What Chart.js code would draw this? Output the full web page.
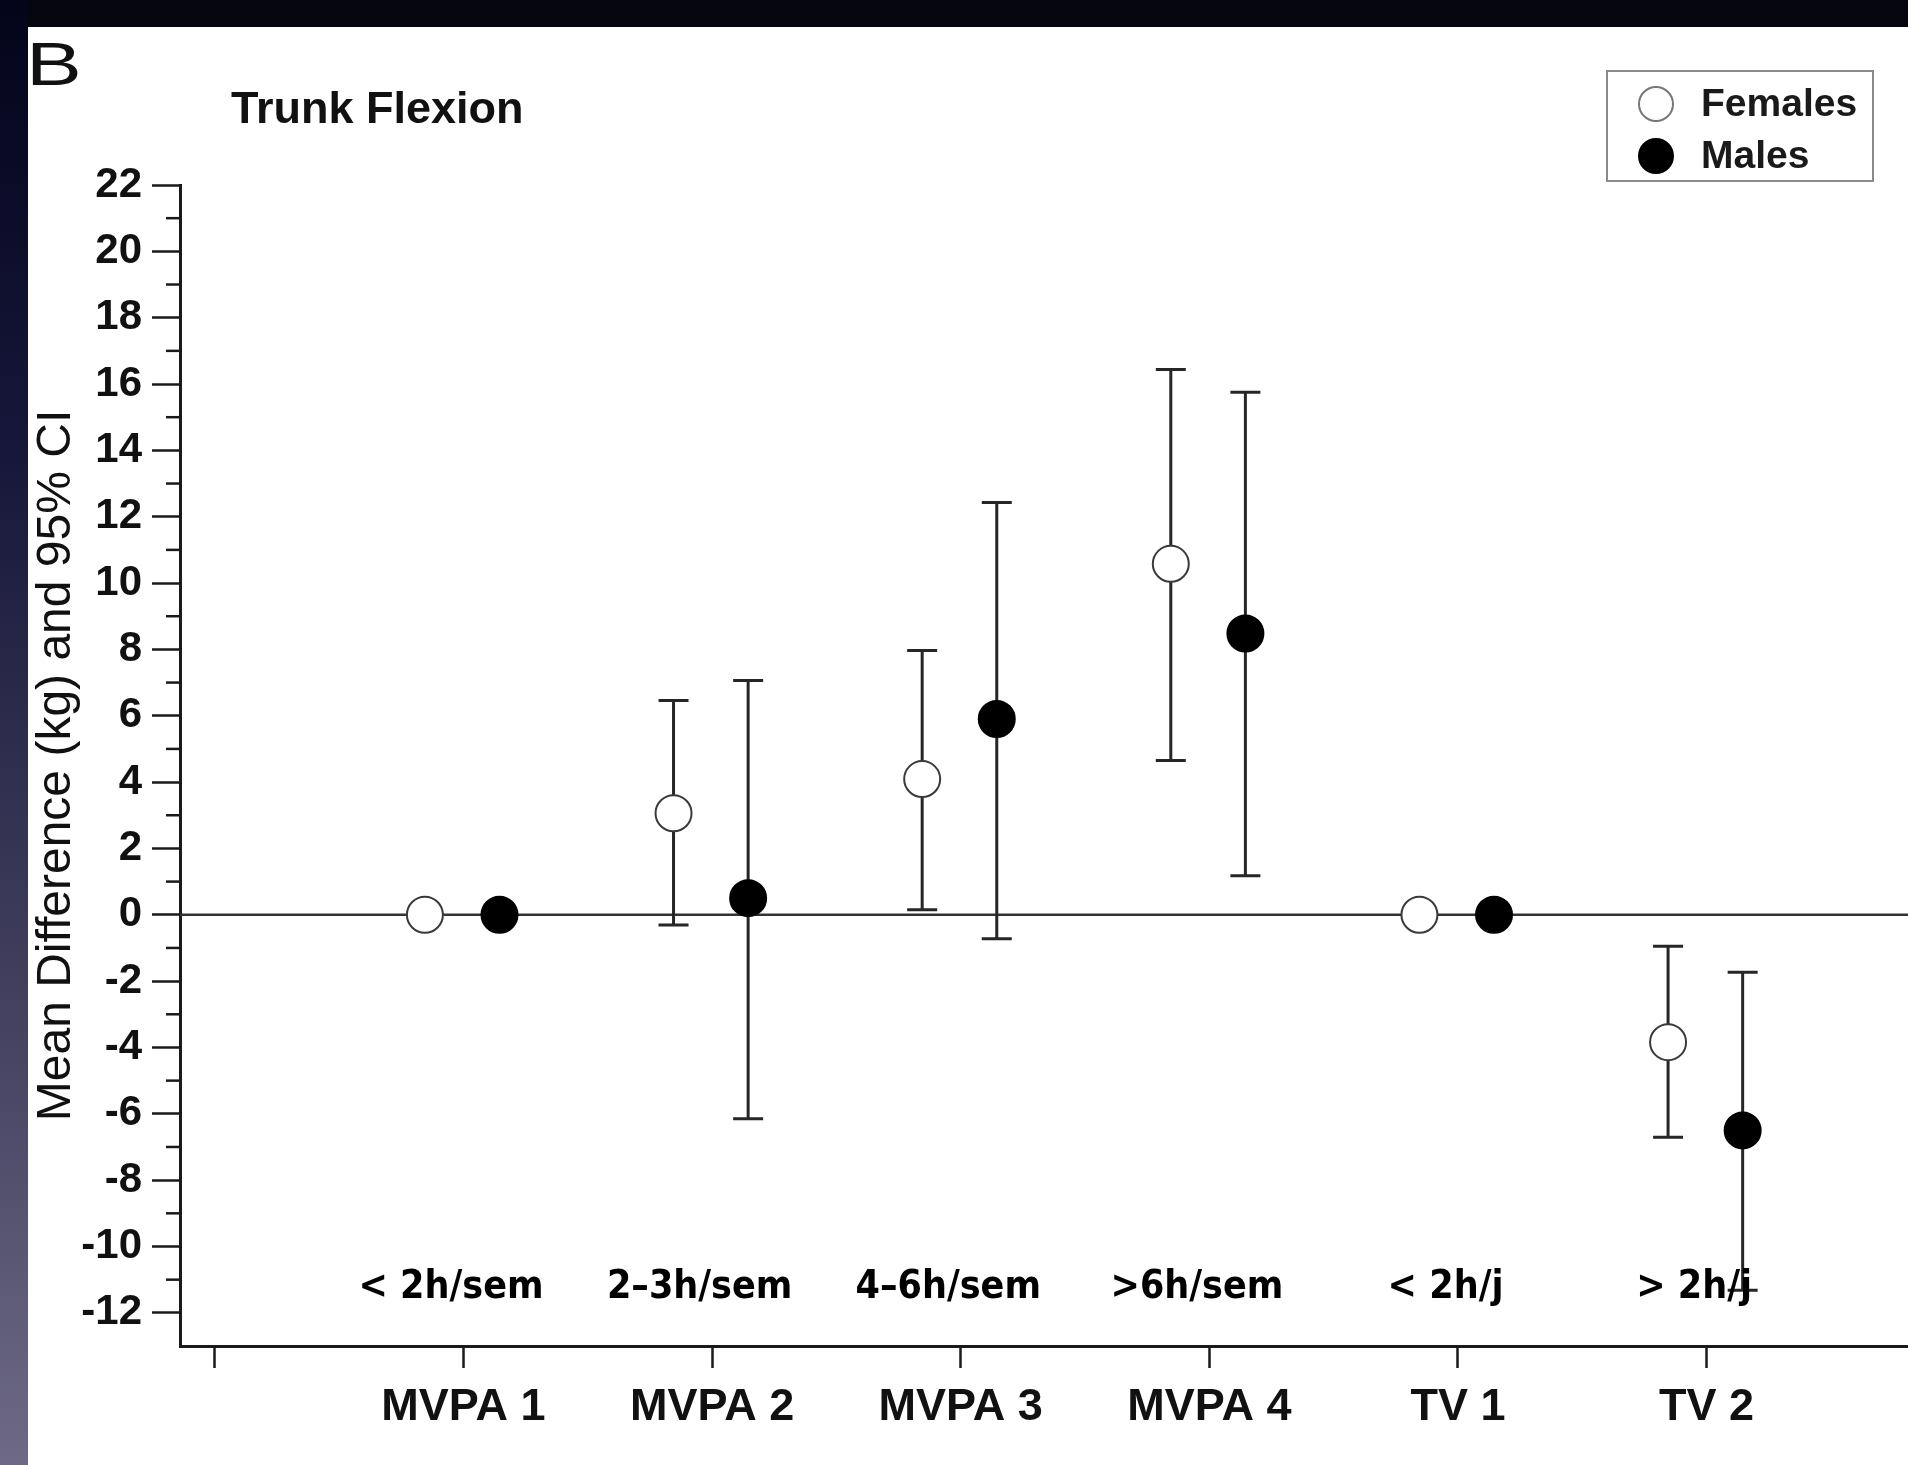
<!DOCTYPE html>
<html>
<head>
<meta charset="utf-8">
<script src="https://cdn.jsdelivr.net/npm/chart.js@4.4.0/dist/chart.umd.min.js"></script>
<style>
  html, body { margin: 0; padding: 0; }
  body { width: 1908px; height: 1465px; overflow: hidden; background: #05050e; position: relative; }
  #lado { position: absolute; left: 0; top: 0; width: 28px; height: 1465px;
          background: linear-gradient(#04041a, #16163a 30%, #44425f 70%, #6e6a86); }
  #panel { position: absolute; left: 28px; top: 27px; width: 1880px; height: 1438px; background: #fff; }
</style>
</head>
<body>
<div id="lado"></div>
<div id="panel"><canvas id="grafica"></canvas></div>
<script>
// categorias (posiciones 1..6 del eje x; la marca 0 no lleva texto)
const categorias = ['MVPA 1', 'MVPA 2', 'MVPA 3', 'MVPA 4', 'TV 1', 'TV 2'];
const subEtiquetas = ['< 2h/sem', '2\u20133h/sem', '4\u20136h/sem', '>6h/sem', '< 2h/j', '> 2h/j'];

// Females
const mujeresMedia = [0, 3.06, 4.09, 10.58, 0, -3.84];
const mujeresInf   = [null, -0.31, 0.15, 4.65, null, -6.71];
const mujeresSup   = [null, 6.46, 7.97, 16.44, null, -0.95];

// Males
const hombresMedia = [0, 0.50, 5.90, 8.48, 0, -6.50];
const hombresInf   = [null, -6.15, -0.72, 1.18, null, -11.32];
const hombresSup   = [null, 7.06, 12.43, 15.75, null, -1.73];

// marcas del eje y
const yMayores = [-12, -10, -8, -6, -4, -2, 0, 2, 4, 6, 8, 10, 12, 14, 16, 18, 20, 22];
const yMenores = [-11, -9, -7, -5, -3, -1, 1, 3, 5, 7, 9, 11, 13, 15, 17, 19, 21];

const DESP_F = -0.155, DESP_M = 0.145;
const FUENTE = "'Liberation Sans', Arial, sans-serif";

function puntos(medias, desp) {
  return medias.map((v, i) => ({ x: i + 1 + desp, y: v }));
}

const extras = {
  id: 'extras',
  beforeDatasetsDraw(chart) {
    const { ctx, chartArea, scales: { x, y } } = chart;
    ctx.save();
    // linea de cero
    ctx.strokeStyle = '#333';
    ctx.lineWidth = 2.5;
    ctx.beginPath();
    ctx.moveTo(chartArea.left, y.getPixelForValue(0));
    ctx.lineTo(chartArea.right, y.getPixelForValue(0));
    ctx.stroke();
    // barras de error
    const series = [[mujeresInf, mujeresSup, DESP_F], [hombresInf, hombresSup, DESP_M]];
    ctx.strokeStyle = '#262626';
    ctx.lineWidth = 3;
    series.forEach(([inf, sup, d]) => {
      inf.forEach((lo, i) => {
        if (lo === null) return;
        const px = x.getPixelForValue(i + 1 + d);
        const p1 = y.getPixelForValue(lo), p2 = y.getPixelForValue(sup[i]);
        ctx.beginPath();
        ctx.moveTo(px, p1); ctx.lineTo(px, p2);
        ctx.moveTo(px - 15, p1); ctx.lineTo(px + 15, p1);
        ctx.moveTo(px - 15, p2); ctx.lineTo(px + 15, p2);
        ctx.stroke();
      });
    });
    ctx.restore();
  },
  afterDraw(chart) {
    const { ctx, chartArea, scales: { x, y } } = chart;
    ctx.save();
    // marcas menores del eje y
    ctx.strokeStyle = '#1a1a1a';
    ctx.lineWidth = 2.5;
    yMenores.forEach(v => {
      const py = y.getPixelForValue(v);
      ctx.beginPath();
      ctx.moveTo(chartArea.left - 14, py);
      ctx.lineTo(chartArea.left, py);
      ctx.stroke();
    });
    // sub-etiquetas
    ctx.fillStyle = '#000';
    ctx.font = "bold 39px 'DejaVu Sans Condensed', 'DejaVu Sans', sans-serif";
    ctx.textAlign = 'center';
    ctx.textBaseline = 'middle';
    subEtiquetas.forEach((t, i) => {
      ctx.fillText(t, x.getPixelForValue(i + 1 - 0.05), y.getPixelForValue(-11.25));
    });
    // letra del panel y titulo
    ctx.textAlign = 'left';
    ctx.textBaseline = 'alphabetic';
    ctx.fillStyle = '#111';
    ctx.save();
    ctx.translate(-2, 58);
    ctx.scale(1.35, 1);
    ctx.font = '62px ' + FUENTE;
    ctx.fillText('B', 0, 0);
    ctx.restore();
    ctx.font = 'bold 45px ' + FUENTE;
    ctx.fillText('Trunk Flexion', 203, 96);
    // leyenda
    ctx.strokeStyle = '#8a8a8a';
    ctx.lineWidth = 2;
    ctx.strokeRect(1579, 44, 266, 110);
    chart.data.datasets.forEach((ds, i) => {
      const cy = 77 + i * 52;
      ctx.beginPath();
      ctx.arc(1628, cy, 17, 0, Math.PI * 2);
      ctx.fillStyle = ds.backgroundColor;
      ctx.fill();
      ctx.lineWidth = ds.borderWidth;
      ctx.strokeStyle = i === 0 ? '#777' : ds.borderColor;
      ctx.stroke();
      ctx.fillStyle = '#1a1a1a';
      ctx.font = 'bold 39px ' + FUENTE;
      ctx.textBaseline = 'middle';
      ctx.fillText(ds.label, 1673, cy + 1);
    });
    ctx.restore();
  }
};

document.addEventListener('DOMContentLoaded', function () {
  const canvas = document.getElementById('grafica');
  if (!canvas || typeof Chart === 'undefined') {
    console.warn('Chart.js no está cargado o falta #grafica');
    return;
  }
  new Chart(canvas.getContext('2d'), {
    type: 'scatter',
    data: {
      datasets: [
        { label: 'Females', data: puntos(mujeresMedia, DESP_F), pointRadius: 18,
          backgroundColor: '#ffffff', borderColor: '#3a3a3a', borderWidth: 2 },
        { label: 'Males', data: puntos(hombresMedia, DESP_M), pointRadius: 18,
          backgroundColor: '#000000', borderColor: '#000000', borderWidth: 2 }
      ]
    },
    options: {
      responsive: true,
      maintainAspectRatio: false,
      animation: false,
      layout: { autoPadding: false, padding: { top: 158, left: 0, right: 0, bottom: 0 } },
      plugins: { legend: { display: false }, tooltip: { enabled: false } },
      scales: {
        x: {
          type: 'linear', min: -0.14, max: 6.81,
          afterBuildTicks: s => { s.ticks = [0, 1, 2, 3, 4, 5, 6].map(v => ({ value: v })); },
          afterFit: s => { s.height = 119; s.paddingLeft = 0; s.paddingRight = 0; },
          grid: { drawOnChartArea: false, tickLength: 22, tickWidth: 2.5, tickColor: '#1a1a1a' },
          border: { color: '#1a1a1a', width: 3 },
          ticks: {
            autoSkip: false, maxRotation: 0, padding: 13, color: '#111',
            font: { family: FUENTE, size: 45, weight: 'bold' },
            callback: v => (v >= 1 ? categorias[v - 1] : '')
          }
        },
        y: {
          min: -13, max: 22,
          afterBuildTicks: s => { s.ticks = yMayores.map(v => ({ value: v })); },
          afterFit: s => { s.width = 152; },
          grid: { drawOnChartArea: false, tickLength: 28, tickWidth: 2.5, tickColor: '#1a1a1a' },
          border: { color: '#1a1a1a', width: 3 },
          ticks: { padding: 10, color: '#111', font: { family: FUENTE, size: 42, weight: 'bold' } },
          title: {
            display: true, text: 'Mean Difference (kg) and 95% CI', color: '#111',
            font: { family: FUENTE, size: 48 }, padding: { top: 0, bottom: 0 }
          }
        }
      }
    },
    plugins: [extras]
  });
});
</script>
</body>
</html>
